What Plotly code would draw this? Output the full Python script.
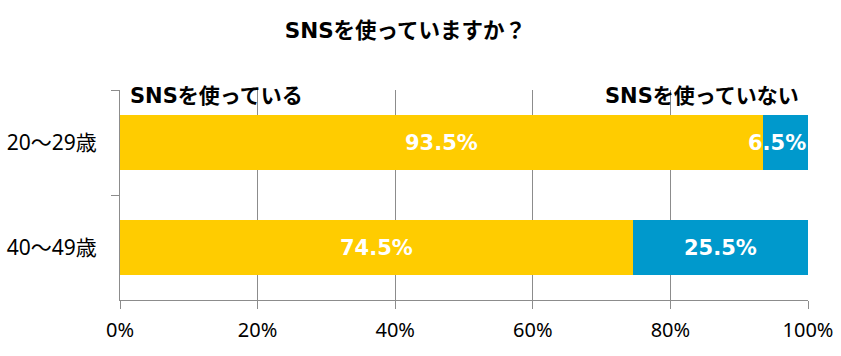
import plotly.graph_objects as go

categories = ["20～29歳", "40～49歳"]
use_sns = [93.5, 74.5]
not_use_sns = [6.5, 25.5]
series_names = ["SNSを使っている", "SNSを使っていない"]
x_ticks = [0, 20, 40, 60, 80, 100]
x_tick_labels = ["0%", "20%", "40%", "60%", "80%", "100%"]
title_text = "SNSを使っていますか？"

YELLOW = "#FFCC00"
BLUE = "#0099CC"
GRID = "#8C8C8C"
FONT = "Noto Sans, Noto Sans CJK JP, sans-serif"
BOLD = "DejaVu Sans, Noto Sans CJK JP, sans-serif"

fig = go.Figure()
fig.add_trace(go.Bar(y=categories, x=use_sns, orientation="h", name=series_names[0],
                     marker=dict(color=YELLOW, line=dict(width=0)), width=0.53))
fig.add_trace(go.Bar(y=categories, x=not_use_sns, orientation="h", name=series_names[1],
                     marker=dict(color=BLUE, line=dict(width=0)), width=0.53))

lab_font = dict(family=BOLD, size=21, color="white", weight="bold")
annotations = []
for cat, a, b in zip(categories, use_sns, not_use_sns):
    annotations.append(dict(x=a / 2, y=cat, xref="x", yref="y", text=f"{a:.1f}%",
                            showarrow=False, font=lab_font))
    if b < 10:
        annotations.append(dict(x=a + b, y=cat, xref="x", yref="y", text=f"{b:.1f}%",
                                xanchor="right", xshift=0, showarrow=False, font=lab_font))
    else:
        annotations.append(dict(x=a + b / 2, y=cat, xref="x", yref="y", text=f"{b:.1f}%",
                                showarrow=False, font=lab_font))

hdr_font = dict(family=BOLD, size=21, color="black", weight="bold")
annotations.append(dict(x=0.012, y=1.0, xref="paper", yref="paper", text=series_names[0],
                        xanchor="left", yanchor="middle", yshift=-6, showarrow=False,
                        font=hdr_font))
annotations.append(dict(x=0.99, y=1.0, xref="paper", yref="paper", text=series_names[1],
                        xanchor="right", yanchor="middle", yshift=-6, showarrow=False,
                        font=hdr_font))

fig.update_layout(
    width=841, height=356,
    margin=dict(l=120, r=33, t=90, b=56, autoexpand=False),
    barmode="stack",
    showlegend=False,
    plot_bgcolor="white",
    paper_bgcolor="white",
    title=dict(text=title_text, x=0.482, xanchor="center", y=0.915, yanchor="middle",
               font=dict(family=BOLD, size=21.5, color="black", weight="bold")),
    annotations=annotations,
    font=dict(family=FONT, color="black"),
)
fig.update_xaxes(range=[0, 100], tickvals=x_ticks, ticktext=x_tick_labels,
                 showgrid=True, gridcolor=GRID, gridwidth=1,
                 showline=True, linecolor=GRID, linewidth=1,
                 ticks="outside", ticklen=8, tickcolor=GRID, automargin=False,
                 tickfont=dict(family=FONT, size=20), zeroline=False,
                 ticklabelstandoff=4)
fig.update_yaxes(autorange="reversed", showgrid=False,
                 showline=True, linecolor=GRID, linewidth=1, automargin=False,
                 ticks="outside", ticklen=8, tickcolor=GRID, tickson="boundaries",
                 tickfont=dict(family=FONT, size=21), ticklabelstandoff=18)

fig.write_html("out.html")
